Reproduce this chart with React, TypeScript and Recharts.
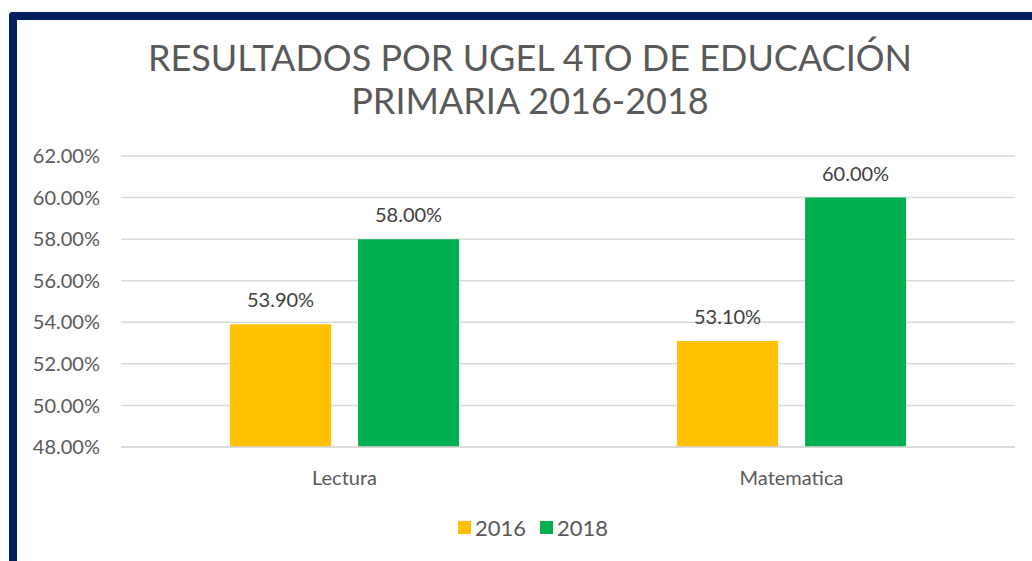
import React from "react";
import { BarChart, Bar, XAxis, YAxis, CartesianGrid, LabelList } from "recharts";

const categories = ["Lectura", "Matematica"];
const values2016 = [53.9, 53.1];
const values2018 = [58.0, 60.0];
const yTicks = [48, 50, 52, 54, 56, 58, 60, 62];
const seriesNames = ["2016", "2018"];
const seriesColors = ["#FFC000", "#00B050"];
const titleLines = ["RESULTADOS POR UGEL 4TO DE EDUCACIÓN", "PRIMARIA 2016-2018"];

const data = categories.map((c, i) => ({ name: c, s2016: values2016[i], s2018: values2018[i] }));

const FONT = "Lato, 'Open Sans', sans-serif";
const TEXT = "#595959";
const fmt = (v: number) => `${Number(v).toFixed(2)}%`;

export default function App() {
  return (
    <div style={{ position: "fixed", left: 0, top: 0, width: 1032, height: 561, background: "#fff", overflow: "hidden", fontFamily: FONT }}>
      <div
        style={{
          position: "absolute",
          left: 9,
          top: 12,
          width: 1100,
          height: 600,
          borderLeft: "8px solid #002060",
          borderTop: "8px solid #002060",
          borderTopLeftRadius: 4,
          boxSizing: "border-box",
        }}
      />
      <div style={{ position: "absolute", left: 30, width: 1000, top: 36, textAlign: "center", color: TEXT, fontSize: 36, fontWeight: 400, lineHeight: "43px" }}>
        {titleLines.map((t) => (
          <div key={t}>{t}</div>
        ))}
      </div>
      <div style={{ position: "absolute", left: 0, top: 0 }}>
        <BarChart
          width={1032}
          height={561}
          data={data}
          margin={{ top: 156, right: 17, bottom: 74, left: 21 }}
          barCategoryGap="24.4%"
          barGap={27}
        >
          <CartesianGrid vertical={false} stroke="#d9d9d9" strokeWidth={1.5} />
          <XAxis
            dataKey="name"
            axisLine={{ stroke: "#d9d9d9", strokeWidth: 1.5 }}
            tickLine={false}
            tick={{ fill: TEXT, fontSize: 20, fontFamily: FONT }}
            tickMargin={18}
            height={40}
          />
          <YAxis
            domain={[48, 62]}
            ticks={yTicks}
            width={100}
            axisLine={false}
            tickLine={false}
            tickSize={0}
            tickMargin={21}
            allowDataOverflow
            tickFormatter={fmt}
            tick={{ fill: TEXT, fontSize: 20, fontFamily: FONT }}
          />
          <Bar dataKey="s2016" name={seriesNames[0]} fill={seriesColors[0]} isAnimationActive={false}>
            <LabelList dataKey="s2016" position="top" offset={17} formatter={fmt} style={{ fill: "#404040", fontSize: 20, fontFamily: FONT }} />
          </Bar>
          <Bar dataKey="s2018" name={seriesNames[1]} fill={seriesColors[1]} isAnimationActive={false}>
            <LabelList dataKey="s2018" position="top" offset={17} formatter={fmt} style={{ fill: "#404040", fontSize: 20, fontFamily: FONT }} />
          </Bar>
        </BarChart>
      </div>
      <div style={{ position: "absolute", left: 30, width: 1006, top: 514, display: "flex", justifyContent: "center", color: TEXT, fontSize: 22 }}>
        {seriesNames.map((n, i) => (
          <div key={n} style={{ display: "flex", alignItems: "center", marginRight: i === 0 ? 14 : 0 }}>
            <span style={{ display: "inline-block", width: 13, height: 13, background: seriesColors[i], marginRight: 4 }} />
            <span>{n}</span>
          </div>
        ))}
      </div>
    </div>
  );
}
